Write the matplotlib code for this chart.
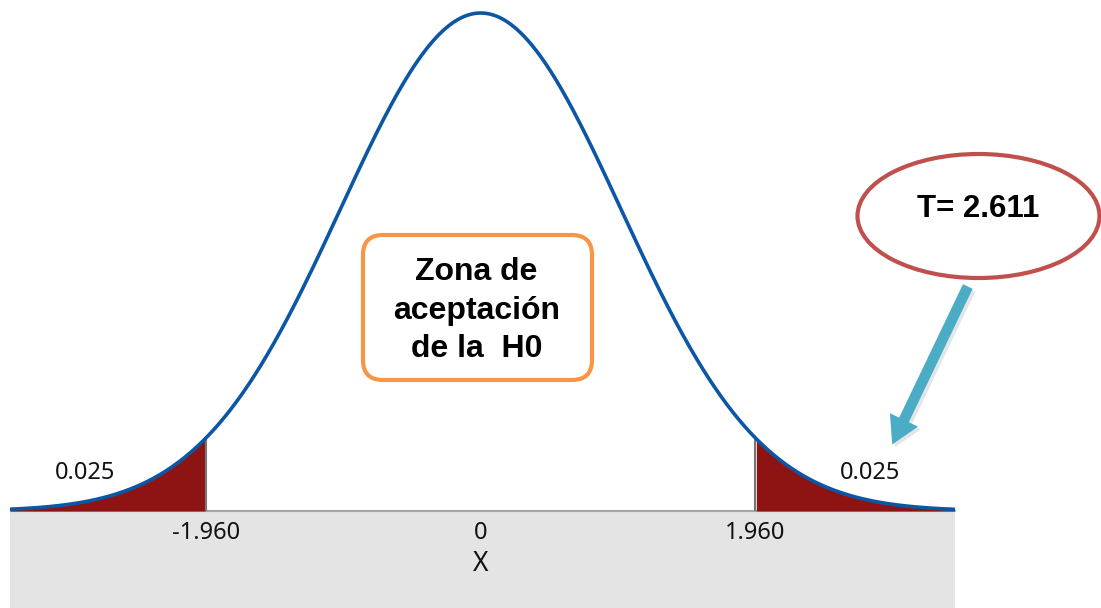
import numpy as np
import matplotlib
matplotlib.use("Agg")
import matplotlib.pyplot as plt
from matplotlib.patches import Ellipse, FancyBboxPatch, FancyArrowPatch
import matplotlib.patheffects as pe

# distribution / test values
mu = 0.0
sigma = 1.0
x_range = [-3.357, 3.383]
crit = 1.960
tail_area = "0.025"
tick_vals = [-1.960, 0, 1.960]
tick_labels = ["-1.960", "0", "1.960"]
t_label = "T= 2.611"
box_label = "Zona de\naceptación\nde la  H0"

x = np.linspace(x_range[0], x_range[1], 800)
y = np.exp(-0.5 * ((x - mu) / sigma) ** 2) / (sigma * np.sqrt(2 * np.pi))

fig = plt.figure(figsize=(11.01, 6.08), dpi=100)
ax = fig.add_axes([10 / 1101, 0, 945 / 1101, 1])
ax.set_xlim(x_range)
ax.set_ylim(-0.07771, 0.40935)
ax.axis("off")

# grey band under the curve
ax.axhspan(-0.08, 0, color="#e4e4e4", zorder=0)
ax.axhline(0, color="#a6a6a6", lw=1.5, zorder=1)

# rejection tails
left = x <= -crit
right = x >= crit
ax.fill_between(x[left], 0, y[left], color="#8e1414", lw=0, zorder=2)
ax.fill_between(x[right], 0, y[right], color="#8e1414", lw=0, zorder=2)
ycrit = np.exp(-0.5 * (crit / sigma) ** 2) / (sigma * np.sqrt(2 * np.pi))
ax.vlines([-crit, crit], 0, ycrit, color="#777777", lw=1.5, zorder=3)

ax.plot(x, y, color="#0b56a5", lw=2.6, zorder=4)

for v, lab in zip(tick_vals, tick_labels):
    ax.text(v, -0.0176, lab, ha="center", va="center", fontsize=17,
            family="Noto Sans", color="#111111")
ax.text(0, -0.0425, "X", ha="center", va="center", fontsize=19,
        family="Noto Sans", color="#111111")

ax.text(-2.82, 0.0304, tail_area, ha="center", va="center", fontsize=17,
        family="Noto Sans", color="#111111")
ax.text(2.78, 0.0304, tail_area, ha="center", va="center", fontsize=17,
        family="Noto Sans", color="#111111")

# annotations placed in pixel-like inches
tr = fig.dpi_scale_trans
H = 6.08

box = FancyBboxPatch((3.63, H - 3.80), 2.29, 1.45,
                     boxstyle="round,pad=0,rounding_size=0.2",
                     fc="white", ec="#f79646", lw=3, transform=tr, zorder=5)
fig.patches.append(box)
fig.text(4.765, H - 3.105, box_label, transform=tr, ha="center", va="center",
         fontsize=23, fontweight="bold", family="Liberation Sans",
         linespacing=1.36, zorder=6)

ell = Ellipse((9.785, H - 2.16), 2.42, 1.24, fc="white", ec="#c0504d",
              lw=3, transform=tr, zorder=5)
fig.patches.append(ell)
fig.text(9.785, H - 2.09, t_label, transform=tr, ha="center", va="center",
         fontsize=22.5, fontweight="bold", family="Liberation Sans", zorder=6)

arr = FancyArrowPatch((9.69, H - 2.84), (8.91, H - 4.47), transform=tr,
                      arrowstyle="simple,head_width=1.6,head_length=1.4,tail_width=0.55",
                      mutation_scale=14, fc="#4bacc6", ec="#4bacc6", lw=0,
                      zorder=6)
arr.set_path_effects([pe.SimplePatchShadow(offset=(2, -2), alpha=0.12),
                      pe.Normal()])
fig.patches.append(arr)

fig.savefig("out.png", dpi=100)
